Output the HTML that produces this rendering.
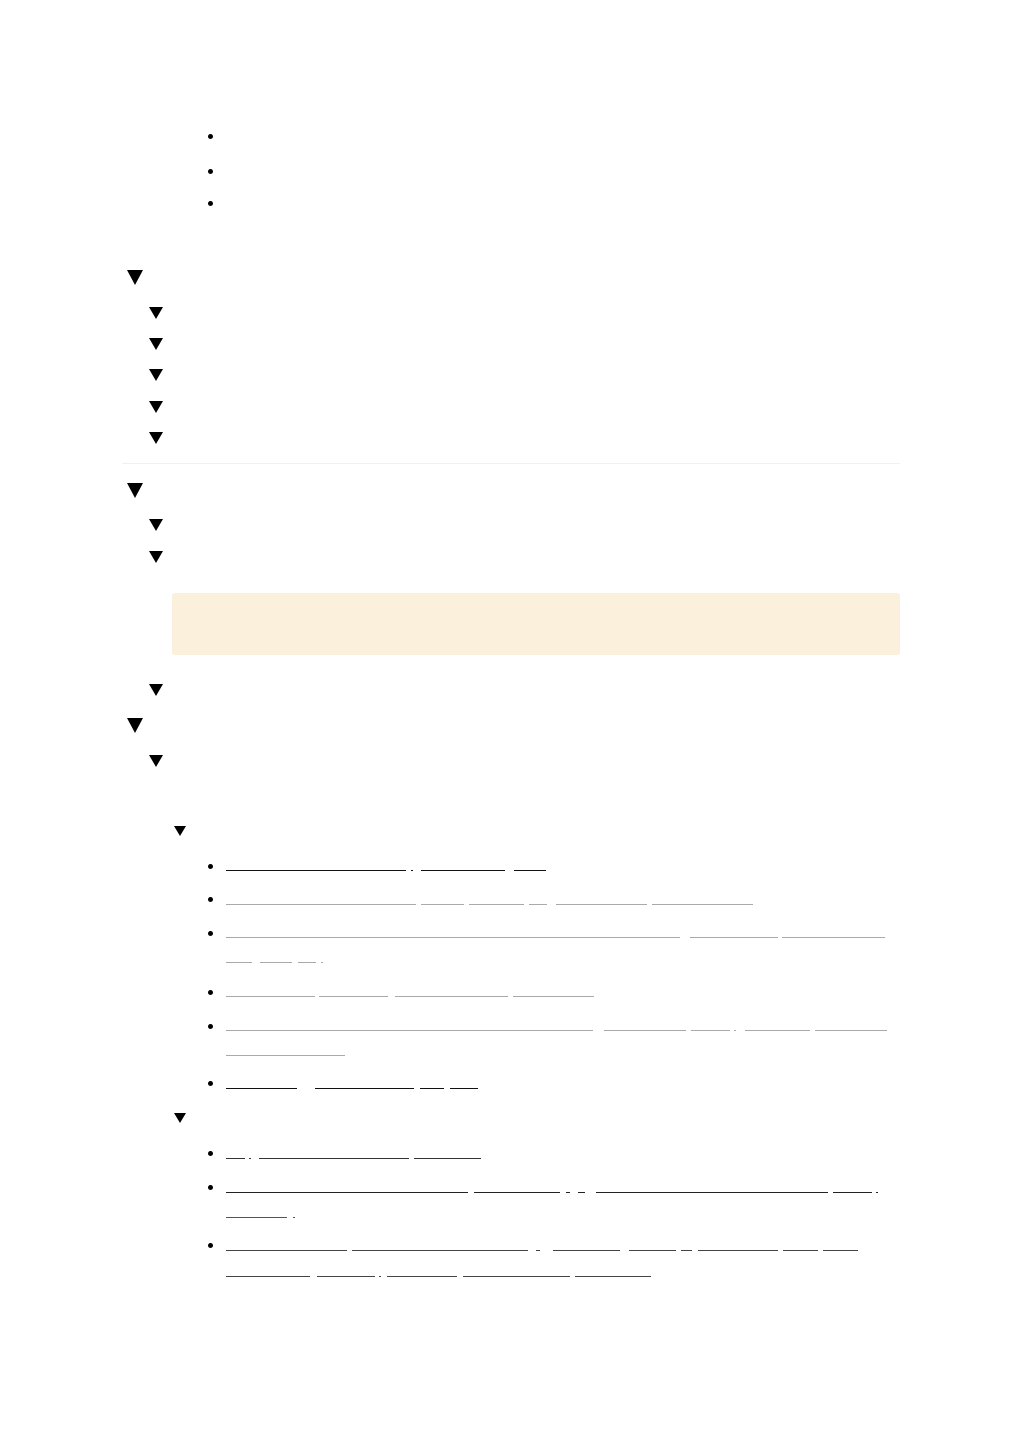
<!DOCTYPE html>
<html><head><meta charset="utf-8">
<style>
html,body{margin:0;padding:0;background:#fff;width:1024px;height:1449px;overflow:hidden;font-family:"Liberation Sans",sans-serif;}
.a{position:absolute}
.tri{position:absolute;width:0;height:0;border-left:8px solid transparent;border-right:8px solid transparent;border-top:15px solid #000}
.tri.s{border-left:7px solid transparent;border-right:7px solid transparent;border-top:12px solid #000}
.tri.t{border-left:6px solid transparent;border-right:6px solid transparent;border-top:10px solid #000}
.dot{position:absolute;width:5px;height:5px;border-radius:50%;background:#000}
.u{position:absolute;height:1px}
</style></head><body>
<div id="root">
<div class="a" style="left:122px;top:463px;width:778px;height:1px;background:#f0f0f0"></div>
<div class="a" style="left:172px;top:593px;width:728px;height:62px;background:#faf0db;border-radius:3px"></div>
</div>
<script>
const root=document.getElementById('root');
const bigTri=[270,483,718];
const smallTri=[307,338,369,401,432,519,551,684,755];
const tinyTri=[826,1113];
const dots=[134,169,201,864,897,931,990,1024,1081,1151,1185,1243];
// underline rows: y, color, segments
const rows=[
[870,'#111',[[226,406],[411,413],[421,505],[514,546]]],
[904,'#aaa',[[226,416],[421,464],[469,524],[529,547],[556,647],[652,753]]],
[937,'#aaa',[[226,680],[690,778],[782,885]]],
[962,'#aaa',[[226,252],[260,292],[298,316],[321,323]]],
[996,'#aaa',[[226,315],[319,388],[395,508],[513,594]]],
[1030,'#aaa',[[226,593],[604,686],[691,730],[734,736],[745,810],[815,887]]],
[1055,'#aaa',[[226,345]]],
[1088,'#111',[[226,297],[315,414],[420,444],[450,478]]],
[1158,'#333',[[226,245],[249,251],[259,409],[414,481]]],
[1192,'#222',[[226,468],[474,560],[566,570],[578,585],[596,828],[833,872],[876,878]]],
[1217,'#555',[[226,287],[293,295]]],
[1250,'#444',[[226,347],[352,528],[536,540],[553,620],[629,676],[681,692],[698,778],[783,818],[823,858]]],
[1276,'#444',[[226,310],[317,375],[379,381],[387,457],[463,570],[575,651]]]
];
bigTri.forEach(y=>{const e=document.createElement('div');e.className='tri';e.style.left='127px';e.style.top=y+'px';


root.appendChild(e);});
smallTri.forEach(y=>{const e=document.createElement('div');e.className='tri s';e.style.left='149px';e.style.top=y+'px';


root.appendChild(e);});
tinyTri.forEach(y=>{const e=document.createElement('div');e.className='tri t';e.style.left='174px';e.style.top=y+'px';


root.appendChild(e);});
dots.forEach(y=>{const e=document.createElement('div');e.className='dot';e.style.left='208px';e.style.top=y+'px';


root.appendChild(e);});
rows.forEach(r=>{r[2].forEach(s=>{const e=document.createElement('div');e.className='u';
e.style.left=s[0]+'px';e.style.top=r[0]+'px';e.style.width=(s[1]-s[0])+'px';e.style.background=r[1];


root.appendChild(e);});});
</script>
</body></html>
